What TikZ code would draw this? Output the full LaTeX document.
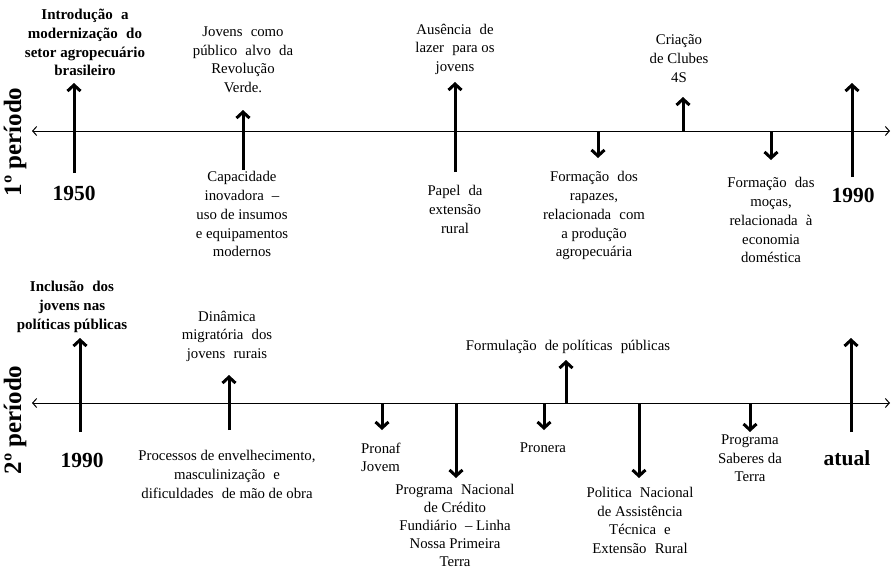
\documentclass[tikz,border=0pt]{standalone}
\usepackage{fontspec}
\setmainfont{Liberation Serif}
\usetikzlibrary{arrows.meta}
\newcommand\xsp{\hspace{0.3em}}
\begin{document}
\begin{tikzpicture}[x=1pt,y=-1pt,
  lbl/.style={align=center,font=\fontsize{14.8}{18.7}\selectfont,inner sep=0pt,anchor=north},
  blbl/.style={align=center,font=\bfseries\fontsize{15}{18.7}\selectfont,inner sep=0pt,anchor=north},
  yearlbl/.style={font=\bfseries\fontsize{21.5}{24}\selectfont,inner sep=0pt},
  perlbl/.style={font=\bfseries\fontsize{25}{30}\selectfont,inner sep=0pt,rotate=90},
  bigarrow/.style={line width=3pt,-{Straight Barb[length=6pt,width=13pt]}},
  axisline/.style={line width=1pt,{Straight Barb[length=4pt,width=9pt]}-{Straight Barb[length=4pt,width=9pt]}}
]
\fill[white] (0,0) rectangle (891,571);
\path[use as bounding box] (0,0) rectangle (891,571);

% ---------- 1st period ----------
\coordinate (t0) at (32,131);
\coordinate (t1) at (890,131);
\draw[axisline] (t0) -- (t1);

\node[perlbl] (p1) at (15,142) {1º período};

\node[blbl] (a1) at (85,9) {Introdução\xsp{} a\\modernização\xsp{} do\\setor agropecuário\\brasileiro};
\node[lbl] (a2) at (243,26.5) {Jovens\xsp{} como\\público\xsp{} alvo\xsp{} da\\Revolução\\Verde.};
\node[lbl] (a3) at (455,23.5) {Ausência\xsp{} de\\lazer\xsp{} para os\\jovens};
\node[lbl] (a4) at (679,34.5) {Criação\\de Clubes\\4S};
\node[lbl] (b1) at (242,171.5) {Capacidade\\inovadora\xsp{} –\\uso de insumos\\e equipamentos\\modernos};
\node[lbl] (b2) at (455,185.5) {Papel\xsp{} da\\extensão\\rural};
\node[lbl] (b3) at (594,171.5) {Formação\xsp{} dos\\rapazes,\\relacionada\xsp{} com\\a produção\\agropecuária};
\node[lbl] (b4) at (771,177.5) {Formação\xsp{} das\\moças,\\relacionada\xsp{} à\\economia\\doméstica};
\node[yearlbl] (y1) at (74,193) {1950};
\node[yearlbl] (y2) at (853,195) {1990};

\coordinate (u1s) at (74,173);  \coordinate (u1e) at (74,83);
\coordinate (u2s) at (243,170); \coordinate (u2e) at (243,110);
\coordinate (u3s) at (455,172); \coordinate (u3e) at (455,82);
\coordinate (d1s) at (598,131); \coordinate (d1e) at (598,158);
\coordinate (u4s) at (683,131); \coordinate (u4e) at (683,97);
\coordinate (d2s) at (771,131); \coordinate (d2e) at (771,160);
\coordinate (u5s) at (852,177); \coordinate (u5e) at (852,83);
\draw[bigarrow] (u1s) -- (u1e);
\draw[bigarrow] (u2s) -- (u2e);
\draw[bigarrow] (u3s) -- (u3e);
\draw[bigarrow] (d1s) -- (d1e);
\draw[bigarrow] (u4s) -- (u4e);
\draw[bigarrow] (d2s) -- (d2e);
\draw[bigarrow] (u5s) -- (u5e);

% ---------- 2nd period ----------
\coordinate (s0) at (32,403);
\coordinate (s1) at (890,403);
\draw[axisline] (s0) -- (s1);

\node[perlbl] (p2) at (15,420) {2º período};

\node[blbl] (c1) at (72,281) {Inclusão\xsp{} dos\\jovens nas\\políticas públicas};
\node[lbl] (c2) at (227,310.5) {Dinâmica\\migratória\xsp{} dos\\jovens\xsp{} rurais};
\node[lbl] (c3) at (568,340.5) {Formulação\xsp{} de políticas\xsp{} públicas};
\node[lbl] (e1) at (227,450.5) {Processos de envelhecimento,\\masculinização\xsp{} e\\dificuldades\xsp{} de mão de obra};
\node[lbl,align=left,anchor=north west] (e2) at (361,442.5) {Pronaf\\Jovem};
\node[lbl,font=\fontsize{14.8}{18.1}\selectfont] (e3) at (455,484) {Programa\xsp{} Nacional\\de Crédito\\Fundiário\xsp{} – Linha\\Nossa Primeira\\Terra};
\node[lbl] (e4) at (543,442.5) {Pronera};
\node[lbl] (e5) at (640,487) {Politica\xsp{} Nacional\\de Assistência\\Técnica\xsp{} e\\Extensão\xsp{} Rural};
\node[lbl] (e6) at (750,434.5) {Programa\\Saberes da\\Terra};
\node[yearlbl] (y3) at (82,460) {1990};
\node[yearlbl] (y4) at (847,458) {atual};

\coordinate (v1s) at (80,432);  \coordinate (v1e) at (80,338);
\coordinate (v2s) at (229,430); \coordinate (v2e) at (229,375);
\coordinate (w1s) at (382,403); \coordinate (w1e) at (382,430);
\coordinate (w2s) at (456,403); \coordinate (w2e) at (456,478);
\coordinate (w3s) at (544,403); \coordinate (w3e) at (544,430);
\coordinate (v3s) at (566,403); \coordinate (v3e) at (566,360);
\coordinate (w4s) at (639,403); \coordinate (w4e) at (639,478);
\coordinate (w5s) at (750,403); \coordinate (w5e) at (750,432);
\coordinate (v4s) at (851,432); \coordinate (v4e) at (851,338);
\draw[bigarrow] (v1s) -- (v1e);
\draw[bigarrow] (v2s) -- (v2e);
\draw[bigarrow] (w1s) -- (w1e);
\draw[bigarrow] (w2s) -- (w2e);
\draw[bigarrow] (w3s) -- (w3e);
\draw[bigarrow] (v3s) -- (v3e);
\draw[bigarrow] (w4s) -- (w4e);
\draw[bigarrow] (w5s) -- (w5e);
\draw[bigarrow] (v4s) -- (v4e);
\end{tikzpicture}
\end{document}
